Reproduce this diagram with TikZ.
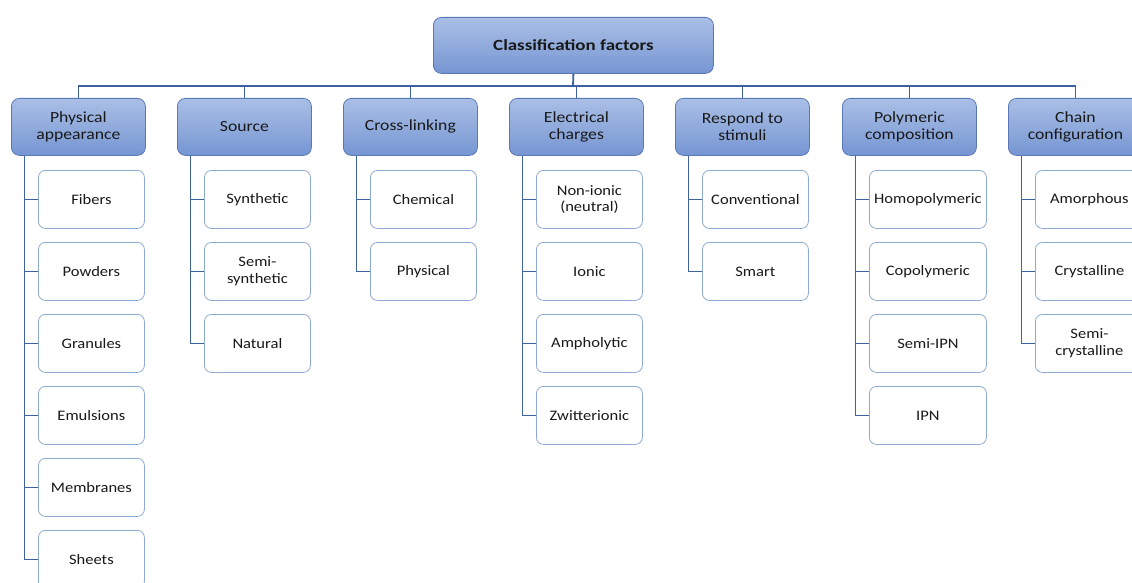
\documentclass[tikz,border=0pt]{standalone}
\usepackage{fontspec}
\setmainfont{Carlito}[FakeStretch=1.22]
\newfontfamily\boxfont{Carlito}[FakeStretch=1.14]
\definecolor{cattop}{RGB}{170,191,230}
\definecolor{catbot}{RGB}{118,150,210}
\definecolor{catborder}{RGB}{90,120,182}
\definecolor{leafborder}{RGB}{140,170,210}
\definecolor{linec}{RGB}{62,98,160}
\definecolor{txt}{RGB}{25,25,25}
\begin{document}
\begin{tikzpicture}[x=1pt,y=-1pt,
  cat/.style={draw=catborder, line width=0.8pt, rounded corners=8pt, top color=cattop, bottom color=catbot,
    minimum width=134pt, minimum height=57pt, align=center, text=txt,
    font=\boxfont\fontsize{15.5}{17}\selectfont, inner sep=2pt, anchor=north west},
  leaf/.style={draw=leafborder, line width=0.8pt, fill=white, rounded corners=7pt,
    minimum width=106pt, minimum height=58pt, align=center, text=txt,
    font=\boxfont\fontsize{14.5}{16.5}\selectfont, inner sep=2pt, anchor=north west},
  conn/.style={draw=linec, line width=1.8pt}]
\useasboundingbox (0,0) rectangle (1132,583);
\clip (0,0) rectangle (1132,583);
% root
\node[cat, minimum width=280pt, minimum height=56pt, font=\bfseries\fontsize{15.5}{18}\selectfont] (root) at (433,17) {Classification factors};
% categories
\node[cat] (c1) at (11,98) {Physical\\appearance};
\node[cat] (c2) at (177,98) {Source};
\node[cat] (c3) at (343,98) {Cross-linking};
\node[cat] (c4) at (509,98) {Electrical\\charges};
\node[cat] (c5) at (675,98) {Respond to\\stimuli};
\node[cat] (c6) at (842,98) {Polymeric\\composition};
\node[cat] (c7) at (1008,98) {Chain\\configuration};
% bus
\coordinate (bus) at (573,86);
\draw[conn] (root.south) -- (bus);
\draw[conn] (c1.north) |- (bus) -| (c7.north);
\foreach \c in {c2,c3,c4,c5,c6} \draw[conn] (\c.north) -- (\c.north |- bus);
% spines
\foreach \c in {1,...,7} \coordinate (s\c) at ([xshift=13.5pt]c\c.south west);
% leaves
\foreach \t [count=\k] in {Fibers,Powders,Granules,Emulsions,Membranes,Sheets}{
  \node[leaf] (c1-\k) at (38,{170+72*(\k-1)}) {\t};
  \draw[conn] (s1 |- c1-\k.west) -- (c1-\k.west);}
\draw[conn] (s1) |- (c1-6.west);
\foreach \t [count=\k] in {Synthetic,{Semi-\\synthetic},Natural}{
  \node[leaf] (c2-\k) at (204,{170+72*(\k-1)}) {\t};
  \draw[conn] (s2 |- c2-\k.west) -- (c2-\k.west);}
\draw[conn] (s2) |- (c2-3.west);
\foreach \t [count=\k] in {Chemical,Physical}{
  \node[leaf] (c3-\k) at (370,{170+72*(\k-1)}) {\t};
  \draw[conn] (s3 |- c3-\k.west) -- (c3-\k.west);}
\draw[conn] (s3) |- (c3-2.west);
\foreach \t [count=\k] in {{Non-ionic\\(neutral)},Ionic,Ampholytic,Zwitterionic}{
  \node[leaf] (c4-\k) at (536,{170+72*(\k-1)}) {\t};
  \draw[conn] (s4 |- c4-\k.west) -- (c4-\k.west);}
\draw[conn] (s4) |- (c4-4.west);
\foreach \t [count=\k] in {Conventional,Smart}{
  \node[leaf] (c5-\k) at (702,{170+72*(\k-1)}) {\t};
  \draw[conn] (s5 |- c5-\k.west) -- (c5-\k.west);}
\draw[conn] (s5) |- (c5-2.west);
\foreach \t [count=\k] in {Homopolymeric,Copolymeric,Semi-IPN,IPN}{
  \node[leaf, minimum width=117pt] (c6-\k) at (869,{170+72*(\k-1)}) {\t};
  \draw[conn] (s6 |- c6-\k.west) -- (c6-\k.west);}
\draw[conn] (s6) |- (c6-4.west);
\foreach \t [count=\k] in {Amorphous,Crystalline,{Semi-\\crystalline}}{
  \node[leaf, minimum width=108pt] (c7-\k) at (1035,{170+72*(\k-1)}) {\t};
  \draw[conn] (s7 |- c7-\k.west) -- (c7-\k.west);}
\draw[conn] (s7) |- (c7-3.west);
\end{tikzpicture}
\end{document}
